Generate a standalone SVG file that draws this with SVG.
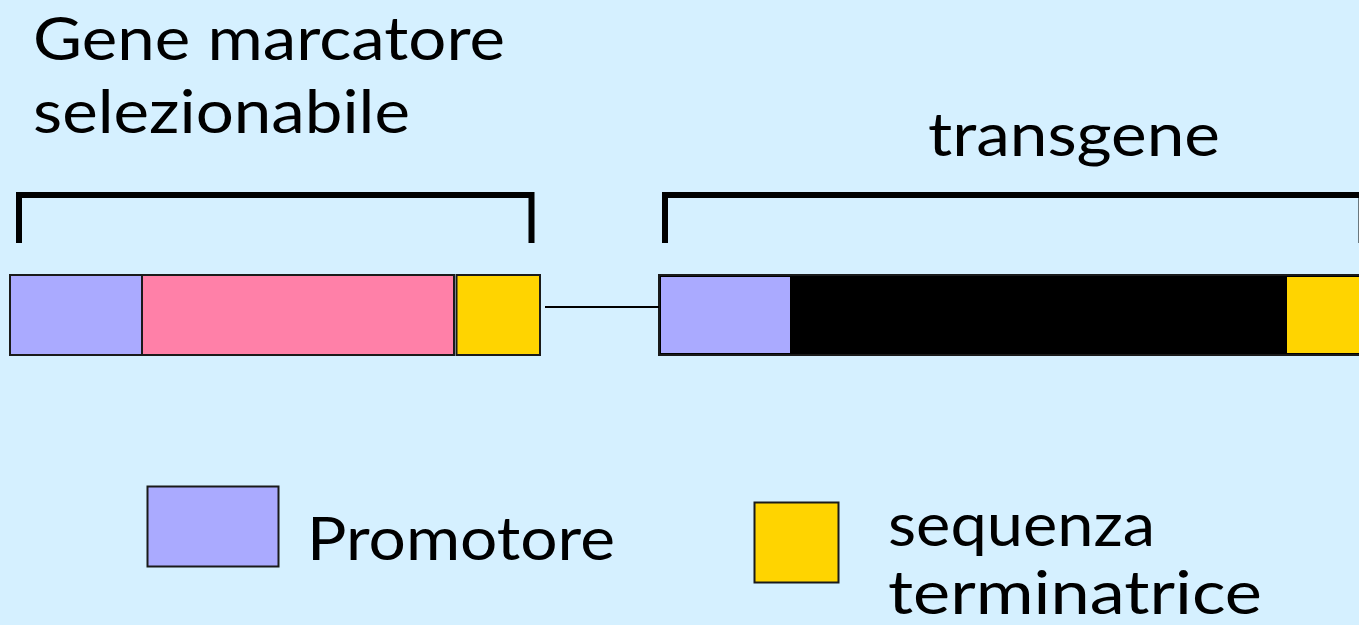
<svg xmlns="http://www.w3.org/2000/svg" width="1359" height="625" viewBox="0 0 1359 625">
  <style>
    .lbl { font-family: "Comic Sans MS", "Lato", "DejaVu Sans", sans-serif; font-size: 60px; fill: #000; }
    .seg { stroke: #1a1a1a; stroke-width: 2; }
    .prom { fill: #AAAAFF; }
    .mark { fill: #FF80A8; }
    .term { fill: #FFD400; }
    .cds { fill: #000; }
    .brk { fill: none; stroke: #000; stroke-width: 6; }
  </style>
  <rect x="0" y="0" width="1359" height="625" fill="#D5F0FF"/>

  <!-- headings -->
  <g id="title-marker">
    <text class="lbl" x="33" y="60" textLength="472" lengthAdjust="spacingAndGlyphs">Gene marcatore</text>
    <text class="lbl" x="33" y="133" textLength="377" lengthAdjust="spacingAndGlyphs">selezionabile</text>
  </g>
  <g id="title-transgene">
    <text class="lbl" x="928" y="156" textLength="292" lengthAdjust="spacingAndGlyphs">transgene</text>
  </g>

  <!-- brackets -->
  <g id="bracket-marker">
    <path class="brk" d="M19,243 V195 H531.5 V243"/>
  </g>
  <g id="bracket-transgene">
    <path class="brk" d="M665,243 V195 H1361.5 V243"/>
  </g>

  <!-- selectable marker cassette -->
  <g id="marker-cassette">
    <rect class="seg prom" x="10" y="275" width="132" height="80"/>
    <rect class="seg mark" x="142" y="275" width="312" height="80"/>
    <rect class="seg term" x="456.5" y="275" width="83.5" height="80"/>
  </g>

  <!-- transgene cassette -->
  <g id="transgene-cassette">
    <rect class="seg cds" x="659" y="275" width="710" height="80"/>
    <rect class="prom" x="661" y="277" width="129" height="76"/>
    <rect class="term" x="1287" y="277" width="80" height="76"/>
  </g>

  <!-- linker between cassettes -->
  <g id="connectors">
    <line x1="545" y1="307" x2="659" y2="307" stroke="#000" stroke-width="2"/>
  </g>

  <!-- legend -->
  <g id="legend-promoter">
    <rect class="seg prom" x="147.5" y="486.5" width="131" height="80"/>
    <text class="lbl" x="307" y="560" textLength="308" lengthAdjust="spacingAndGlyphs">Promotore</text>
  </g>
  <g id="legend-terminator">
    <rect class="seg term" x="754.5" y="502.5" width="84" height="80"/>
    <text class="lbl" x="888" y="546" textLength="267" lengthAdjust="spacingAndGlyphs">sequenza</text>
    <text class="lbl" x="888" y="614" textLength="374" lengthAdjust="spacingAndGlyphs">terminatrice</text>
  </g>
</svg>
